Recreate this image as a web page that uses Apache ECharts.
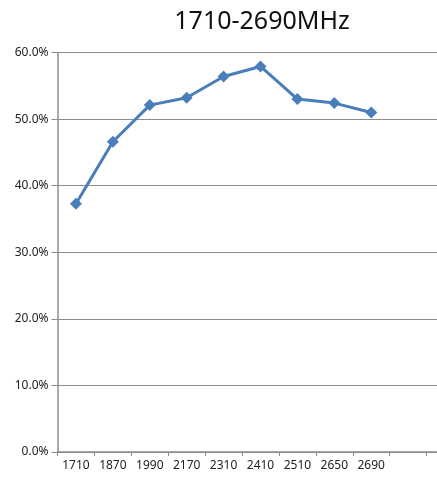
<!DOCTYPE html>
<html>
<head>
<meta charset="utf-8">
<script src="https://cdn.jsdelivr.net/npm/echarts@6/dist/echarts.min.js"></script>
<style>
html,body{margin:0;padding:0;background:#fff;}
#chart{width:437px;height:479px;}
</style>
</head>
<body>
<div id="chart"></div>
<script>
/* 1710-2690MHz efficiency line, Excel-style; plot runs past the right edge (cropped) */
var TITLE = "1710-2690MHz";
var categories = ["1710","1870","1990","2170","2310","2410","2510","2650","2690","",""];
var values = [37.3, 46.6, 52.1, 53.2, 56.4, 57.9, 53.0, 52.4, 51.0];
var yTicks = { min:0, max:60, step:10 };

var GRID = "#8c8c8c", TXT = "#222", BLUE = "#4a7ebb";
var FONT = "'Noto Sans', 'Open Sans', sans-serif";

var ch = echarts.init(document.getElementById("chart"), null, {renderer:"canvas"});
ch.setOption({
  animation:false,
  backgroundColor:"#fff",
  title:{
    text:TITLE, left:257, top:4, textAlign:"center",
    textStyle:{ fontFamily:FONT, fontSize:25, fontWeight:"normal", color:"#111" }
  },
  grid:{ left:57.5, top:52.5, height:399.5, width:406, containLabel:false, outerBoundsMode:"none" },
  xAxis:{
    type:"category", data:categories, boundaryGap:true,
    axisLine:{ lineStyle:{ color:GRID, width:1.5 } },
    axisTick:{ show:true, length:4, interval:0, lineStyle:{ color:GRID } },
    axisLabel:{ color:TXT, fontSize:12, fontFamily:FONT, margin:8, interval:0 },
    splitLine:{ show:false }
  },
  yAxis:{
    type:"value", min:yTicks.min, max:yTicks.max, interval:yTicks.step,
    axisLine:{ show:true, lineStyle:{ color:GRID, width:1.5 } },
    axisTick:{ show:true, length:6, lineStyle:{ color:GRID } },
    axisLabel:{ color:TXT, fontSize:12, fontFamily:FONT, margin:9,
      formatter:function(v){ return v.toFixed(1)+"%"; } },
    splitLine:{ show:true, lineStyle:{ color:GRID, width:1 } }
  },
  series:[{
    type:"line", data:values,
    symbol:"diamond", symbolSize:12, showAllSymbol:true,
    lineStyle:{ color:BLUE, width:3 },
    itemStyle:{ color:BLUE },
    emphasis:{ disabled:true }
  }]
});
</script>
</body>
</html>
